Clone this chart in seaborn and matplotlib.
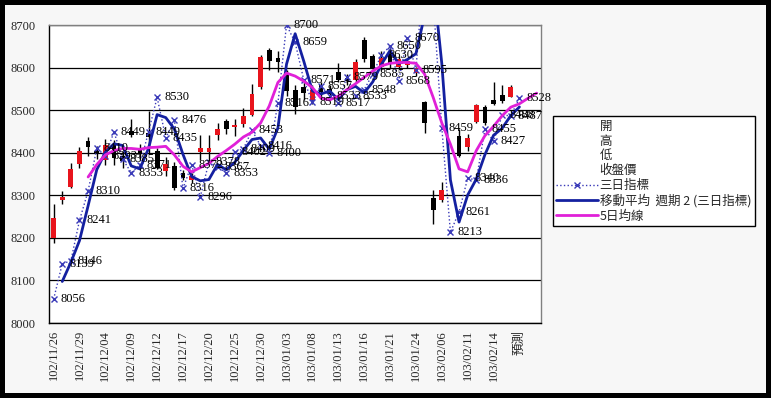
import numpy as np
import pandas as pd
import matplotlib
matplotlib.use("Agg")
import matplotlib.pyplot as plt
import seaborn as sns
from matplotlib.lines import Line2D
from matplotlib.patches import Rectangle

sns.set_style("white")
plt.rcParams['font.family'] = ['Liberation Serif', 'Noto Sans CJK TC', 'DejaVu Sans']

# ---------------- data ----------------
tick_labels = ['102/11/26', '102/11/29', '102/12/04', '102/12/09', '102/12/12', '102/12/17',
               '102/12/20', '102/12/25', '102/12/30', '103/01/03', '103/01/08', '103/01/13',
               '103/01/16', '103/01/21', '103/01/24', '103/02/06', '103/02/11', '103/02/14', '預測']
n_categories = 57

nan = np.nan
open_ = [8199, 8288, 8320, 8373, 8428, 8405, 8383, 8418, 8392, 8450, 8410, 8447, 8404, 8357, 8369,
         8352, 8335, 8402, 8402, 8441, 8475, 8461, 8467, 8489, 8555, 8641, 8622, 8582, 8548, 8555,
         8525, 8559, 8550, 8590, 8575, 8571, 8665, 8628, 8602, 8636, 8602, 8605, 8588, 8518, 8293,
         8290, nan, 8440, 8414, 8473, 8508, 8524, 8536, 8532]
high = [8279, 8310, 8377, 8414, 8437, 8415, 8432, 8430, 8405, 8480, 8420, 8498, 8412, 8390, 8378,
        8360, 8352, 8442, 8442, 8470, 8480, 8480, 8505, 8561, 8630, 8645, 8640, 8594, 8560, 8565,
        8560, 8567, 8560, 8610, 8585, 8620, 8672, 8632, 8640, 8645, 8628, 8620, 8602, 8522, 8312,
        8332, nan, 8455, 8445, 8515, 8512, 8567, 8559, 8560]
low = [8189, 8279, 8318, 8364, 8392, 8385, 8370, 8372, 8365, 8436, 8385, 8399, 8361, 8345, 8312,
       8335, 8328, 8383, 8378, 8430, 8445, 8440, 8461, 8486, 8550, 8594, 8590, 8533, 8490, 8525,
       8515, 8528, 8530, 8565, 8560, 8565, 8612, 8592, 8595, 8600, 8598, 8598, 8580, 8446, 8233,
       8285, nan, 8390, 8405, 8470, 8465, 8512, 8517, 8530]
close = [8247, 8295, 8361, 8404, 8414, 8396, 8418, 8388, 8380, 8442, 8398, 8436, 8365, 8373, 8318,
         8340, 8345, 8410, 8410, 8456, 8455, 8466, 8486, 8539, 8626, 8616, 8614, 8545, 8508, 8540,
         8548, 8543, 8538, 8571, 8568, 8612, 8620, 8600, 8622, 8608, 8620, 8615, 8598, 8470, 8265,
         8312, nan, 8393, 8434, 8512, 8469, 8514, 8522, 8555]

# 三日指標 (values above 8700 are off the chart)
three_day = [8056, 8139, 8146, 8241, 8310, 8410, 8393, 8449, 8385, 8353, 8371, 8449, 8530, 8435,
             8476, 8316, 8372, 8296, 8378, 8367, 8353, 8402, 8409, 8453, 8416, 8400, 8516, 8700,
             8659, 8571, 8519, 8557, 8533, 8517, 8579, 8533, 8548, 8585, 8630, 8650, 8568, 8670,
             8595, 8850, 8760, 8459, 8213, 8261, 8340, 8336, 8455, 8427, 8488, 8487, 8528]

# 5日均線 (starts at category 4)
ma5_start = 4
ma5 = [8343, 8372, 8395, 8405, 8410, 8410, 8408, 8412, 8413, 8415, 8395, 8368, 8355, 8365, 8375,
       8391, 8405, 8420, 8437, 8448, 8470, 8510, 8565, 8587, 8580, 8568, 8553, 8528, 8524, 8533,
       8548, 8562, 8577, 8592, 8604, 8610, 8612, 8612, 8610, 8585, 8530, 8470, 8420, 8362, 8355,
       8405, 8440, 8462, 8487, 8507, 8515, 8528, 8540]

# ---------------- figure ----------------
W, H = 771, 398
fig = plt.figure(figsize=(W / 100, H / 100), dpi=100, facecolor='black')
fig.patches.append(Rectangle((5 / W, 5 / H), 761 / W, 388 / H, transform=fig.transFigure,
                             facecolor='#f7f7f7', edgecolor='none', zorder=-10))

ax = fig.add_axes([49.3 / W, 1 - 323 / H, (541 - 49.3) / W, (323 - 25) / H])
ax.set_zorder(1)
ax.set_facecolor('white')

candles = pd.DataFrame({'open': open_, 'high': high, 'low': low, 'close': close})
candles['idx'] = np.arange(len(candles))
cd = candles.dropna()
up = cd['close'] >= cd['open']
ax.vlines(cd['idx'], cd['low'], cd['high'], color='black', lw=1, zorder=3)
body_bottom = np.minimum(cd['open'], cd['close'])
body_h = np.maximum(np.abs(cd['close'] - cd['open']), 3)
ax.bar(cd['idx'], body_h, bottom=body_bottom, width=0.55,
       color=np.where(up, '#e8141c', '#000000'), edgecolor='none', zorder=4)

td = pd.DataFrame({'idx': np.arange(len(three_day)), 'v': three_day})
td['ma2'] = td['v'].rolling(2).mean()
m5 = pd.DataFrame({'idx': np.arange(ma5_start, ma5_start + len(ma5)), 'v': ma5})

sns.lineplot(data=td, x='idx', y='v', ax=ax, color='#3a3ab8', lw=1, linestyle=':',
             marker='x', markersize=5, markeredgewidth=1, markeredgecolor='#3a3ab8', zorder=5)
sns.lineplot(data=td.dropna(), x='idx', y='ma2', ax=ax, color='#1420a0', lw=2, zorder=6)
sns.lineplot(data=m5, x='idx', y='v', ax=ax, color='#e020d8', lw=2, zorder=7)

for i, v in enumerate(three_day):
    if v <= 8700:
        ax.annotate(str(v), (i, v), xytext=(5, 0), textcoords='offset points',
                    ha='left', va='center', fontsize=9, family='Liberation Serif',
                    color='black', zorder=8, annotation_clip=False)

ax.set_xlim(-0.5, n_categories - 0.5)
ax.set_ylim(8000, 8700)
ax.set_yticks(np.arange(8000, 8701, 100))
ax.yaxis.grid(True, color='black', lw=0.9)
ax.set_axisbelow(True)
ax.set_xticks(np.arange(0, 3 * len(tick_labels), 3))
ax.set_xticklabels(tick_labels, rotation=90, fontsize=9)
ax.set_xticks(np.arange(-0.5, n_categories, 1), minor=True)
ax.tick_params(axis='x', which='major', length=0, pad=5)
ax.tick_params(axis='x', which='minor', length=3, color='black', direction='out')
ax.tick_params(axis='y', length=4, color='black', labelsize=9, pad=6)
ax.set_xlabel('')
ax.set_ylabel('')
for s in ['left', 'bottom']:
    ax.spines[s].set_color('black')
for s in ['top', 'right']:
    ax.spines[s].set_color('#808080')
for s in ax.spines.values():
    s.set_linewidth(1)

handles = [Line2D([], [], linestyle='none'), Line2D([], [], linestyle='none'),
           Line2D([], [], linestyle='none'), Line2D([], [], linestyle='none'),
           Line2D([], [], color='#3a3ab8', lw=1, linestyle=':', marker='x', markersize=5),
           Line2D([], [], color='#1420a0', lw=2),
           Line2D([], [], color='#e020d8', lw=2)]
labels = ['開', '高', '低', '收盤價', '三日指標', '移動平均  週期 2 (三日指標)', '5日均線']
leg = ax.legend(handles, labels, loc='upper left', bbox_to_anchor=(552.7 / W, 1 - 116 / H),
                bbox_transform=fig.transFigure, borderaxespad=0, fancybox=False,
                frameon=True, edgecolor='black', facecolor='white', framealpha=1,
                prop={'family': ['Noto Sans CJK TC', 'DejaVu Sans'], 'size': 9},
                handlelength=3.3, handletextpad=0.15, labelspacing=0.15, borderpad=0.3)
leg.get_frame().set_linewidth(1)

fig.savefig('out.png', dpi=100, facecolor='black')
